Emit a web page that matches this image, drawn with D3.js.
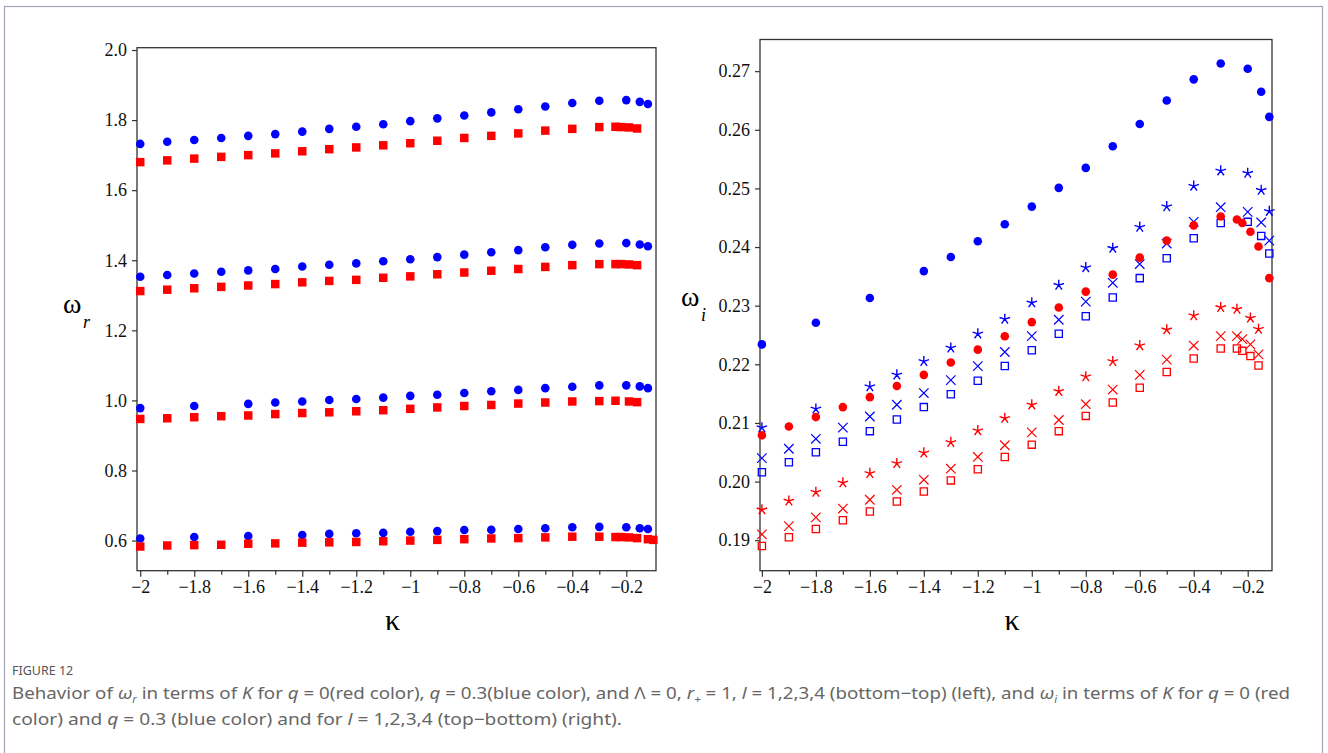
<!DOCTYPE html>
<html>
<head>
<meta charset="utf-8">
<script src="https://cdn.jsdelivr.net/npm/d3@7"></script>
<title>Figure 12</title>
<style>
  body { margin: 0; background: #fff; }
  svg text { font-family: "Liberation Serif", "Times New Roman", serif; }
  .cap text { font-family: "Noto Sans", "Open Sans", sans-serif; }
</style>
</head>
<body>
<svg id="fig" width="1328" height="753"></svg>
<script>
// kappa grids
var kFull = [-2,-1.9,-1.8,-1.7,-1.6,-1.5,-1.4,-1.3,-1.2,-1.1,-1,-0.9,-0.8,-0.7,-0.6,-0.5,-0.4,-0.3];
var kTailB = [-0.2,-0.15,-0.12];
var kTailR = [-0.24,-0.22,-0.19,-0.16];

// left panel: omega_r, l = 1..4 (bottom-top)
var kL_blue4 = kFull.concat(kTailB);
var wr_blue4 = [1.732,1.738,1.743,1.749,1.755,1.760,1.767,1.775,1.781,1.788,1.797,1.805,1.813,1.822,1.831,1.839,1.849,1.855,1.857,1.852,1.846];
var kL_red4 = kFull.concat(kTailR);
var wr_red4 = [1.680,1.685,1.690,1.695,1.700,1.705,1.711,1.717,1.722,1.728,1.734,1.741,1.749,1.755,1.762,1.770,1.775,1.780,1.781,1.780,1.779,1.776];
var kL_blue3 = kFull.concat(kTailB);
var wr_blue3 = [1.353,1.358,1.362,1.367,1.371,1.375,1.382,1.387,1.391,1.397,1.403,1.409,1.416,1.423,1.429,1.437,1.444,1.448,1.449,1.445,1.440];
var kL_red3 = kFull.concat(kTailR);
var wr_red3 = [1.312,1.316,1.320,1.324,1.328,1.332,1.337,1.341,1.344,1.350,1.354,1.360,1.365,1.370,1.375,1.381,1.386,1.389,1.389,1.389,1.388,1.386];
var kL_blue2 = [-2,-1.8,-1.6,-1.5,-1.4,-1.3,-1.2,-1.1,-1,-0.9,-0.8,-0.7,-0.6,-0.5,-0.4,-0.3,-0.2,-0.15,-0.12];
var wr_blue2 = [0.978,0.984,0.990,0.994,0.997,1.001,1.004,1.008,1.013,1.016,1.021,1.026,1.030,1.035,1.039,1.043,1.043,1.040,1.035];
var kL_red2 = kFull.concat([-0.24,-0.19,-0.16]);
var wr_red2 = [0.947,0.949,0.952,0.955,0.957,0.961,0.964,0.966,0.969,0.972,0.976,0.980,0.984,0.987,0.991,0.994,0.997,0.998,0.999,0.997,0.995];
var kL_blue1 = [-2,-1.8,-1.6,-1.4,-1.3,-1.2,-1.1,-1,-0.9,-0.8,-0.7,-0.6,-0.5,-0.4,-0.3,-0.2,-0.15,-0.12];
var wr_blue1 = [0.606,0.610,0.613,0.616,0.619,0.621,0.622,0.625,0.627,0.630,0.631,0.633,0.635,0.638,0.639,0.638,0.635,0.633];
var kL_red1 = kFull.concat([-0.24,-0.22,-0.19,-0.16,-0.12,-0.1]);
var wr_red1 = [0.583,0.586,0.587,0.588,0.591,0.592,0.594,0.595,0.596,0.598,0.600,0.602,0.604,0.606,0.607,0.609,0.611,0.611,0.610,0.610,0.609,0.607,0.604,0.602];

// right panel: omega_i, l = 1..4 (top-bottom): circle, star, cross, square
var kR_blue1 = [-2,-1.8,-1.6,-1.4,-1.3,-1.2,-1.1,-1,-0.9,-0.8,-0.7,-0.6,-0.5,-0.4,-0.3,-0.2,-0.15,-0.12];
var wi_blue1 = [0.2234,0.2271,0.2313,0.2359,0.2383,0.2410,0.2439,0.2469,0.2501,0.2535,0.2572,0.2610,0.2650,0.2686,0.2713,0.2704,0.2665,0.2622];
var kR_blue2 = [-2,-1.8,-1.6,-1.5,-1.4,-1.3,-1.2,-1.1,-1,-0.9,-0.8,-0.7,-0.6,-0.5,-0.4,-0.3,-0.2,-0.15,-0.12];
var wi_blue2 = [0.2092,0.2124,0.2162,0.2182,0.2205,0.2228,0.2252,0.2277,0.2305,0.2335,0.2365,0.2398,0.2434,0.2469,0.2504,0.2530,0.2526,0.2497,0.2461];
var kR_blue3 = kFull.concat(kTailB);
var wi_blue3 = [0.2040,0.2056,0.2073,0.2092,0.2111,0.2131,0.2151,0.2173,0.2197,0.2221,0.2248,0.2276,0.2307,0.2339,0.2371,0.2406,0.2443,0.2468,0.2460,0.2442,0.2411];
var kR_blue4 = kFull.concat(kTailB);
var wi_blue4 = [0.2016,0.2033,0.2050,0.2068,0.2086,0.2106,0.2127,0.2149,0.2172,0.2197,0.2224,0.2252,0.2282,0.2314,0.2347,0.2381,0.2415,0.2441,0.2443,0.2419,0.2389];
var kR_red1 = kFull.concat(kTailR, [-0.12]);
var wi_red1 = [0.2079,0.2094,0.2110,0.2127,0.2144,0.2163,0.2182,0.2203,0.2225,0.2248,0.2272,0.2297,0.2324,0.2353,0.2382,0.2411,0.2437,0.2452,0.2447,0.2441,0.2426,0.2401,0.2347];
var kR_red2 = kFull.concat([-0.24,-0.19,-0.16]);
var wi_red2 = [0.1952,0.1967,0.1982,0.1998,0.2014,0.2031,0.2049,0.2067,0.2087,0.2108,0.2131,0.2154,0.2179,0.2205,0.2232,0.2259,0.2283,0.2297,0.2294,0.2279,0.2260];
var kR_red3 = kFull.concat(kTailR);
var wi_red3 = [0.1910,0.1924,0.1939,0.1954,0.1969,0.1986,0.2003,0.2022,0.2042,0.2062,0.2084,0.2105,0.2132,0.2157,0.2182,0.2208,0.2232,0.2248,0.2248,0.2243,0.2234,0.2217];
var kR_red4 = kFull.concat(kTailR);
var wi_red4 = [0.1890,0.1905,0.1919,0.1934,0.1949,0.1966,0.1983,0.2002,0.2021,0.2042,0.2063,0.2086,0.2112,0.2135,0.2160,0.2187,0.2210,0.2227,0.2227,0.2223,0.2214,0.2198];

var xMajor = [-2,-1.8,-1.6,-1.4,-1.2,-1,-0.8,-0.6,-0.4,-0.2];
var xMinor = [-1.9,-1.7,-1.5,-1.3,-1.1,-0.9,-0.7,-0.5,-0.3];
var yTicksL = [0.6,0.8,1.0,1.2,1.4,1.6,1.8,2.0];
var yTicksR = [0.19,0.20,0.21,0.22,0.23,0.24,0.25,0.26,0.27];

var RED = "#ff0000", BLUE = "#0000ff";

var svg = d3.select("#fig");

// outer frame of the figure
svg.append("rect").attr("x", 4.5).attr("y", 6.5).attr("width", 1318).attr("height", 800)
  .attr("fill", "none").attr("stroke", "#a4a4b4").attr("stroke-width", 1.2);

function zip(ks, vs) { return ks.map(function(k, i) { return [k, vs[i]]; }); }

// thin five-armed star, like the plot's asterisk marker
function starPath(r) {
  var p = "";
  for (var i = 0; i < 5; i++) {
    var a = 2 * Math.PI * i / 5;
    p += "M0,0L" + (r * Math.sin(a)).toFixed(2) + "," + (-r * Math.cos(a)).toFixed(2);
  }
  return p;
}

function panel(opt) {
  var x = d3.scaleLinear().domain(opt.xdom).range([opt.left, opt.right]);
  var y = d3.scaleLinear().domain(opt.ydom).range([opt.bottom, opt.top]);
  var g = svg.append("g");

  g.append("rect").attr("x", opt.left).attr("y", opt.top)
    .attr("width", opt.right - opt.left).attr("height", opt.bottom - opt.top)
    .attr("fill", "none").attr("stroke", "#333").attr("stroke-width", 1.3);

  g.append("g").attr("transform", "translate(0," + opt.bottom + ")")
    .call(d3.axisBottom(x).tickValues(xMajor).tickSize(6).tickPadding(4).tickFormat(d3.format("")));
  g.append("g").attr("transform", "translate(0," + opt.bottom + ")")
    .call(d3.axisBottom(x).tickValues(xMinor).tickSize(4).tickFormat(""));
  g.append("g").attr("transform", "translate(" + opt.left + ",0)")
    .call(d3.axisLeft(y).tickValues(opt.yticks).tickSize(5).tickPadding(5).tickFormat(d3.format(opt.yfmt)));
  g.selectAll(".domain").remove();
  g.selectAll(".tick line").attr("stroke", "#333").attr("stroke-width", 1.2);
  g.selectAll(".tick text").attr("font-size", 18).attr("fill", "#111")
    .style("font-family", "'Liberation Serif', serif");

  opt.series.forEach(function(s) {
    var pts = zip(s.k, s.v);
    var sel = g.append("g").selectAll("path").data(pts).enter().append("path")
      .attr("transform", function(d) { return "translate(" + x(d[0]) + "," + y(d[1]) + ")"; });
    if (s.shape === "circle") {
      sel.attr("d", d3.symbol().type(d3.symbolCircle).size(58)).attr("fill", s.color);
    } else if (s.shape === "fsquare") {
      sel.attr("d", d3.symbol().type(d3.symbolSquare).size(72)).attr("fill", s.color);
    } else if (s.shape === "square") {
      sel.attr("d", d3.symbol().type(d3.symbolSquare).size(52)).attr("fill", "none")
        .attr("stroke", s.color).attr("stroke-width", 1.3);
    } else if (s.shape === "cross") {
      sel.attr("d", d3.symbol().type(d3.symbolTimes).size(60)).attr("fill", "none")
        .attr("stroke", s.color).attr("stroke-width", 1.2);
    } else if (s.shape === "star") {
      sel.attr("d", starPath(5.5)).attr("fill", "none")
        .attr("stroke", s.color).attr("stroke-width", 1.4);
    }
  });

  g.append("text").attr("x", (opt.left + opt.right) / 2 - 4).attr("y", 630)
    .attr("text-anchor", "middle").attr("font-size", 30).text("\u03BA");
  g.append("text").attr("x", opt.ylab[0]).attr("y", opt.ylab[1]).attr("font-size", 28).text("\u03C9");
  g.append("text").attr("x", opt.ylab[0] + 20).attr("y", opt.ylab[1] + 15).attr("font-size", 18)
    .attr("font-style", "italic").text(opt.ysub);
}

panel({
  left: 137, right: 656, top: 47.7, bottom: 570.7,
  xdom: [-2.012, -0.09], ydom: [0.514, 2.0066],
  yticks: yTicksL, yfmt: ".1f", ylab: [63, 313], ysub: "r",
  series: [
    {k: kL_blue4, v: wr_blue4, color: BLUE, shape: "circle"},
    {k: kL_blue3, v: wr_blue3, color: BLUE, shape: "circle"},
    {k: kL_blue2, v: wr_blue2, color: BLUE, shape: "circle"},
    {k: kL_blue1, v: wr_blue1, color: BLUE, shape: "circle"},
    {k: kL_red4, v: wr_red4, color: RED, shape: "fsquare"},
    {k: kL_red3, v: wr_red3, color: RED, shape: "fsquare"},
    {k: kL_red2, v: wr_red2, color: RED, shape: "fsquare"},
    {k: kL_red1, v: wr_red1, color: RED, shape: "fsquare"}
  ]
});

panel({
  left: 760, right: 1272, top: 39.5, bottom: 570.7,
  xdom: [-2.007, -0.11], ydom: [0.1848, 0.2754],
  yticks: yTicksR, yfmt: ".2f", ylab: [681, 306], ysub: "i",
  series: [
    {k: kR_blue1, v: wi_blue1, color: BLUE, shape: "circle"},
    {k: kR_blue2, v: wi_blue2, color: BLUE, shape: "star"},
    {k: kR_blue3, v: wi_blue3, color: BLUE, shape: "cross"},
    {k: kR_blue4, v: wi_blue4, color: BLUE, shape: "square"},
    {k: kR_red1, v: wi_red1, color: RED, shape: "circle"},
    {k: kR_red2, v: wi_red2, color: RED, shape: "star"},
    {k: kR_red3, v: wi_red3, color: RED, shape: "cross"},
    {k: kR_red4, v: wi_red4, color: RED, shape: "square"}
  ]
});

// caption
var cap = svg.append("g").attr("class", "cap").attr("fill", "#666");
cap.append("text").attr("x", 12).attr("y", 675).attr("font-size", 12.5).attr("fill", "#555")
  .text("FIGURE 12");

function capLine(y, len, parts) {
  var t = cap.append("text").attr("x", 12).attr("y", y).attr("font-size", 16.5)
    .attr("textLength", len).attr("lengthAdjust", "spacingAndGlyphs");
  parts.forEach(function(p) {
    var s = t.append("tspan").text(p[0]);
    if (p[1] === "i") s.attr("font-style", "italic");
    if (p[1] === "sub") s.attr("font-style", "italic").attr("font-size", 10).attr("dy", 4);
    if (p[1] === "up") s.attr("dy", -4);
  });
}
capLine(699, 1278, [["Behavior of "], ["\u03C9", "i"], ["r", "sub"], [" in terms of ", "up"], ["K", "i"], [" for "], ["q", "i"],
  [" = 0(red color), "], ["q", "i"], [" = 0.3(blue color), and \u039B = 0, "], ["r", "i"], ["+", "sub"], [" = 1, ", "up"],
  ["l", "i"], [" = 1,2,3,4 (bottom\u2212top) (left), and "], ["\u03C9", "i"], ["i", "sub"], [" in terms of ", "up"], ["K", "i"],
  [" for "], ["q", "i"], [" = 0 (red"]]);
capLine(725, 610, [["color) and "], ["q", "i"], [" = 0.3 (blue color) and for "], ["l", "i"], [" = 1,2,3,4 (top\u2212bottom) (right)."]]);
</script>
</body>
</html>
